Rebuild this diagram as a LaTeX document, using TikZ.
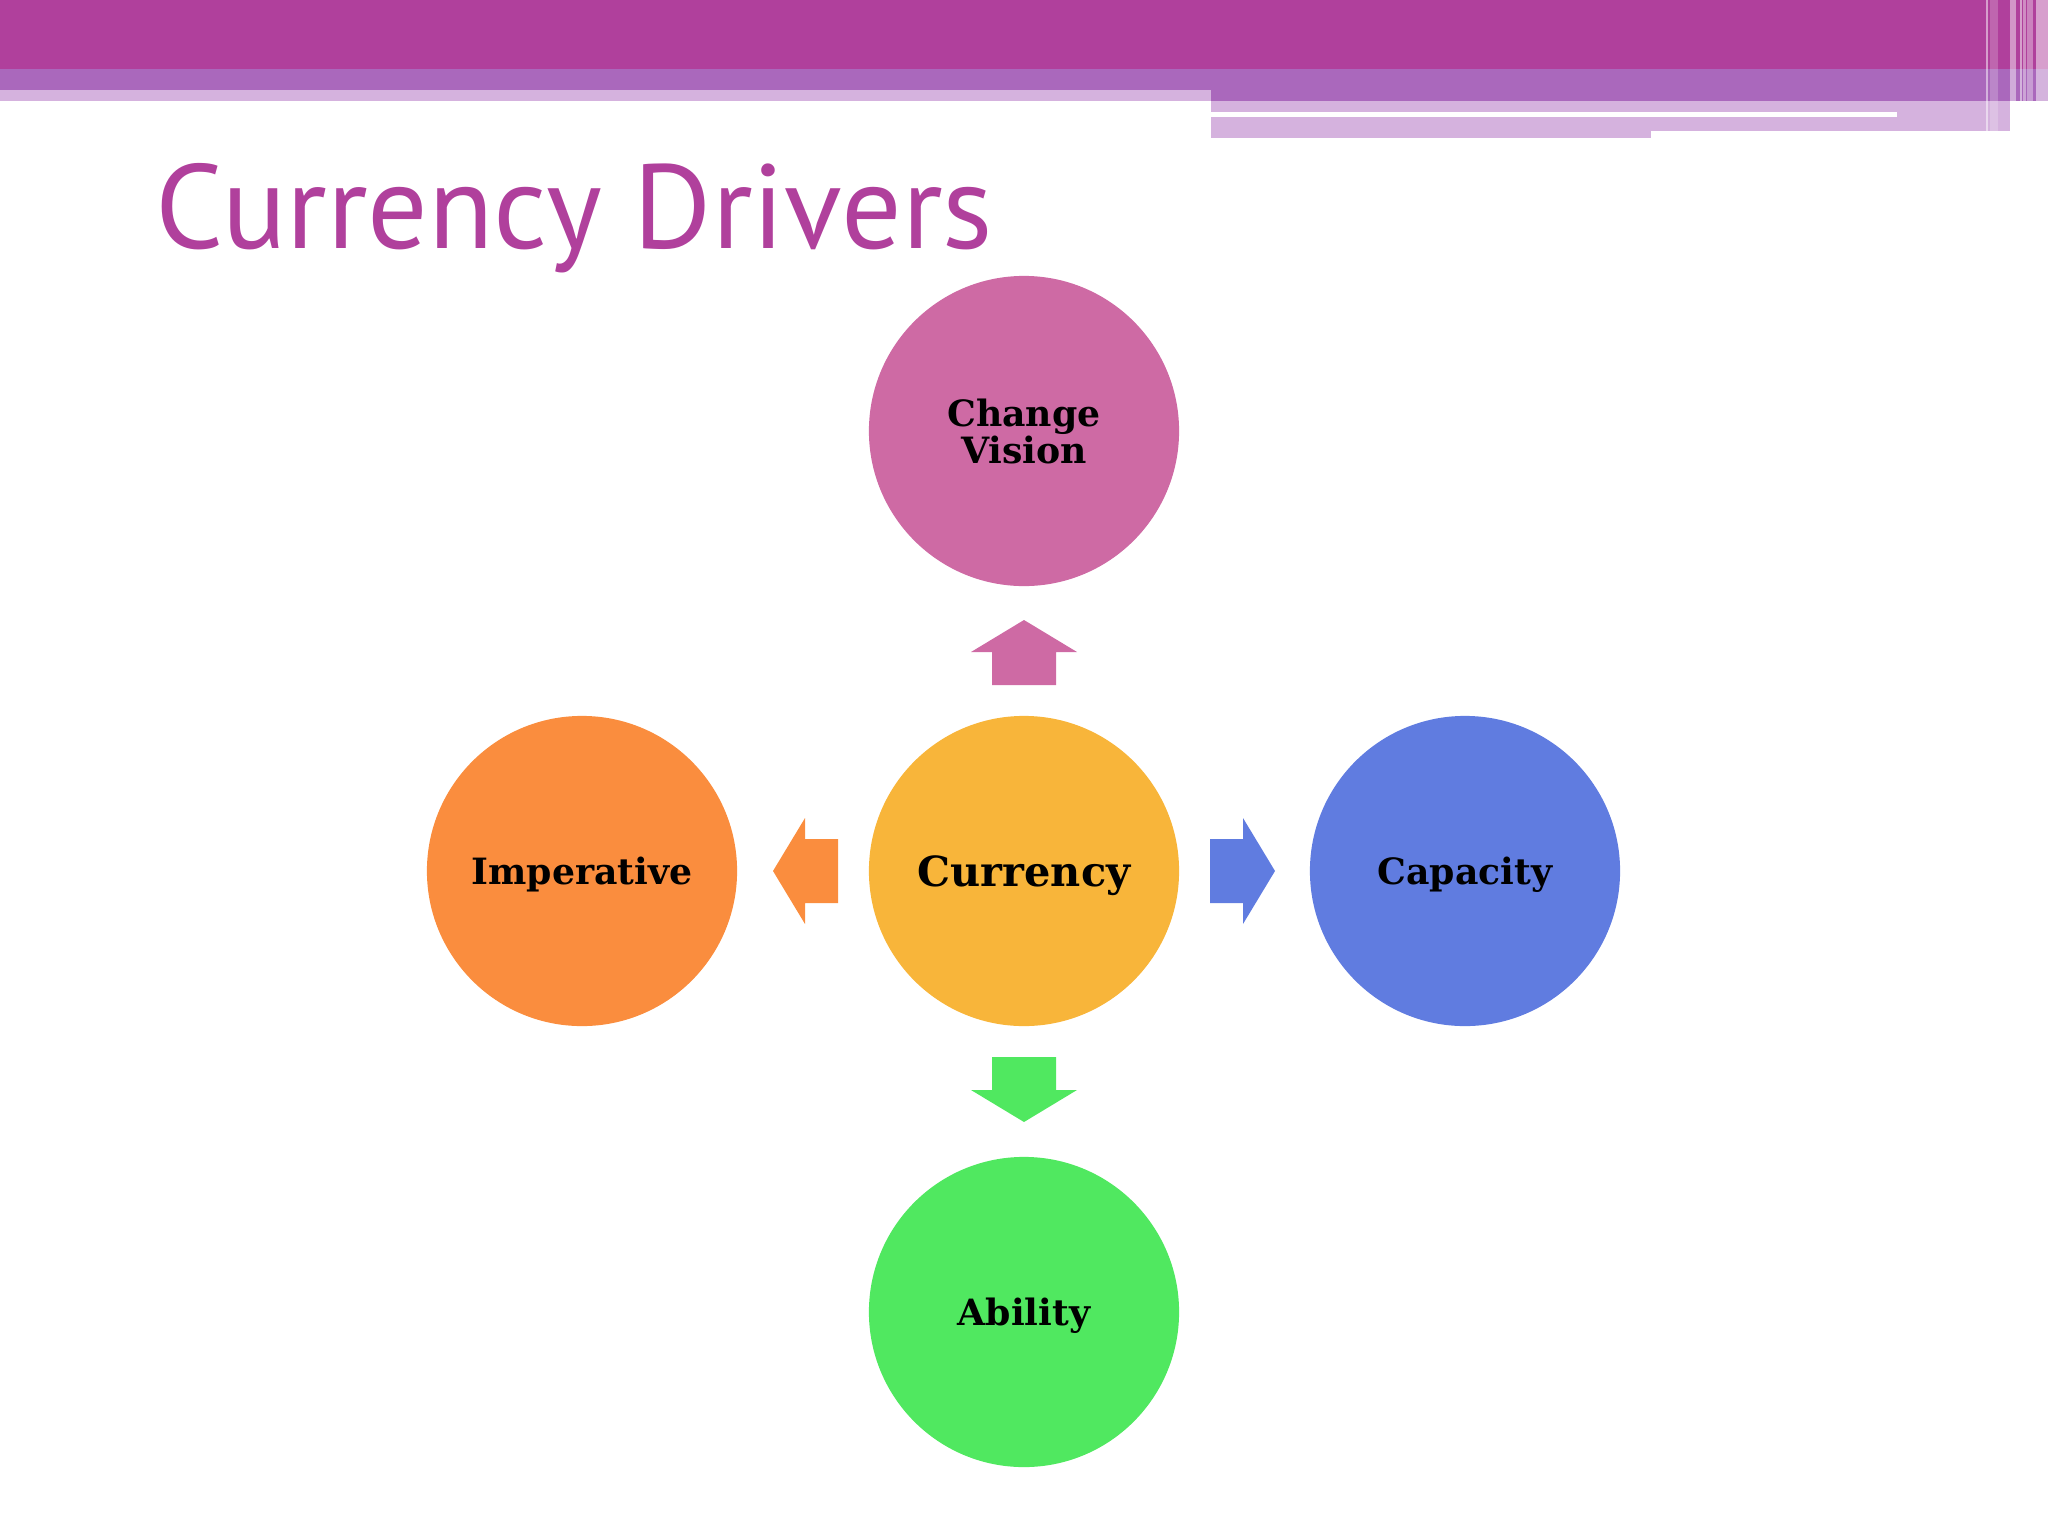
\documentclass[tikz,border=0pt]{standalone}
\usepackage{fontspec}
\setmainfont{DejaVu Serif}
\newfontfamily\titlefont{PT Sans}
\usetikzlibrary{calc}
\definecolor{headmagenta}{RGB}{176,64,156}
\definecolor{headmid}{RGB}{170,104,188}
\definecolor{headlight}{RGB}{213,178,222}
\definecolor{visionpink}{RGB}{206,106,164}
\definecolor{currgold}{RGB}{248,181,58}
\definecolor{imporange}{RGB}{250,141,62}
\definecolor{capblue}{RGB}{96,124,224}
\definecolor{abgreen}{RGB}{80,232,96}
\def\blockarrow[#1](#2)(#3){\fill[#1, shift={(#2)}, rotate=#3] (186,-32) -- (219,-32) -- (219,-53) -- (251,0) -- (219,53) -- (219,32) -- (186,32) -- cycle;}

\begin{document}
\begin{tikzpicture}[x=0.01cm, y=-0.01cm,
		driver/.style={circle, minimum size=3.1cm, inner sep=0pt, align=center, text depth=0pt,
			font=\fontsize{10.3}{10.6}\selectfont\bfseries}]
			%%%%% START %%%%%
			\useasboundingbox (0,0) rectangle (2048,1536);
			
			\fill[headmagenta] (0,0) rectangle (2048,69);
			\fill[headmid] (0,69) rectangle (2048,90);
			\fill[headmid] (1211,90) rectangle (2048,101);
			\fill[headlight] (0,90) rectangle (1211,101);
			\fill[headlight] (1211,101) rectangle (2010,131);
			\fill[headlight] (1211,131) rectangle (1651,138);
			\fill[white] (1211,112) rectangle (1897,117);
			\foreach \sx/\sw/\so in {1986/2/0.5, 1990/8/0.2, 2010/6/0.45, 2020/2/0.5, 2023/3/0.4, 2027/6/0.35, 2036/12/0.5}
				\fill[white, opacity=\so] (\sx,0) rectangle ++(\sw,138);
			
			\node[anchor=base west, inner sep=0pt, text=headmagenta,
				font=\titlefont\fontsize{34}{40}\selectfont] (title) at (155,248) {Currency Drivers};
			
			\node[driver, fill=currgold, font=\fontsize{11.8}{14}\selectfont\bfseries] (curr) at (1024,871) {Currency};
			\node[driver, fill=visionpink] (vision) at (1024,431) {Change\\Vision};
			\node[driver, fill=imporange] (imp) at (582,871) {Imperative};
			\node[driver, fill=capblue] (cap) at (1465,871) {Capacity};
			\node[driver, fill=abgreen] (abil) at (1024,1312) {Ability};
			
			\blockarrow[visionpink](curr)(90)
			\blockarrow[imporange](curr)(180)
			\blockarrow[capblue](curr)(0)
			\blockarrow[abgreen](curr)(270)
			
			%%%%% END %%%%%
		\end{tikzpicture}
\end{document}
